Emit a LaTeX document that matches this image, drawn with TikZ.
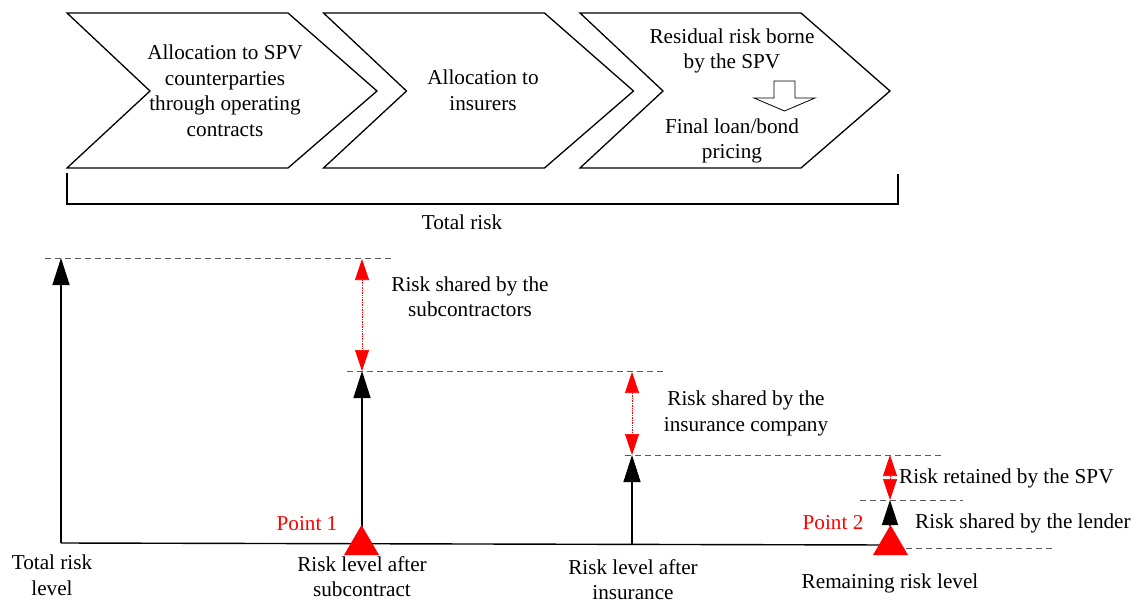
\documentclass[tikz,border=0pt]{standalone}
\usepackage{fontspec}
\setmainfont{Liberation Serif}
\usetikzlibrary{arrows.meta,positioning}

\begin{document}
\begin{tikzpicture}[x=1pt,y=-1pt,
    chev/.style={draw,line width=1.3pt,line join=miter},
    lbl/.style={font=\fontsize{21.2}{25.5}\selectfont,align=center,inner sep=0pt},
    ptlbl/.style={lbl,text=red},
    lvl/.style={-{Triangle[length=27pt,width=17pt]},line width=1.4pt},
    share/.style={{Triangle[length=21pt,width=14pt]}-{Triangle[length=21pt,width=14pt]},
                  red,densely dotted,line width=0.7pt},
    guide/.style={gray!70!black,dash pattern=on 6pt off 4pt,line width=0.7pt}]

  \useasboundingbox (0,0) rectangle (1139,604);

  % the three steps
  \foreach \x in {67,323.5,580}
    \draw[chev] (\x,13) -- ++(221,0) -- ++(89,78) -- ++(-89,77) -- ++(-221,0) -- ++(83,-77) -- cycle;

  \node[lbl] (alloc) at (225,90.5) {Allocation to SPV\\counterparties\\through operating\\contracts};
  \node[lbl] (insurers) at (483,90.5) {Allocation to\\insurers};
  \node[lbl] (residual) at (732,51) {Residual risk borne\\by the SPV};
  \node[lbl] (pricing) at (732,141) {Final loan/bond\\pricing};
  \draw[line width=0.8pt] (774,81) -- (795,81) -- (795,98) -- (815,98) -- (784.5,111)
    -- (754,98) -- (774,98) -- cycle;

  % bracket
  \draw[line width=1.3pt] (67,173) -- (67,204) -- (898,204) -- (898,174);
  \node[lbl] (total) at (462,222) {Total risk};

  % levels
  \coordinate (b0) at (61,543);    \coordinate (top0) at (61,258);
  \coordinate (b1) at (362,543.7); \coordinate (top1) at (362,371);
  \coordinate (b2) at (632,544.3); \coordinate (top2) at (632,455);
  \coordinate (b3) at (890,525);   \coordinate (top3) at (890,500);
  \coordinate (top4) at (890,455);

  \draw[line width=1.4pt] (b0) -- (890,545);

  \draw[guide] (45,258) -- (393,258);
  \draw[guide] (347,371) -- (664,371);
  \draw[guide] (625,455) -- (942,455);
  \draw[guide] (860,500) -- (963,500);
  \draw[guide] (906,548) -- (1054,548);

  \draw[lvl] (b0) -- (top0);
  \draw[lvl] (b1) -- (top1);
  \draw[lvl] (b2) -- (top2);
  \draw[-{Triangle[length=25pt,width=16pt]},line width=1.4pt] (b3) -- (top3);

  \draw[share] (362,259) -- (top1);
  \draw[share] (632,372) -- (top2);
  \draw[share] (top4) -- (top3);

  \fill[red] (344,555) -- (379,555) -- (361.5,525) -- cycle;
  \fill[red] (873,555) -- (908,555) -- (890.5,525) -- cycle;

  \node[lbl] (subc) at (470,296.5) {Risk shared by the\\subcontractors};
  \node[lbl] (insco) at (746,413.5) {Risk shared by the\\insurance company};
  \node[lbl,anchor=west] (spv) at (899,478) {Risk retained by the SPV};
  \node[lbl,anchor=west] (lender) at (915,523) {Risk shared by the lender};

  \node[ptlbl] (p1) at (307,524) {Point 1};
  \node[ptlbl] (p2) at (833,523) {Point 2};

  \node[lbl] (totlvl) at (52,575) {Total risk\\level};
  \node[lbl] (aftsub) at (362,576.5) {Risk level after\\subcontract};
  \node[lbl] (aftins) at (633,579.5) {Risk level after\\insurance};
  \node[lbl] (remain) at (890,583) {Remaining risk level};
\end{tikzpicture}
\end{document}
